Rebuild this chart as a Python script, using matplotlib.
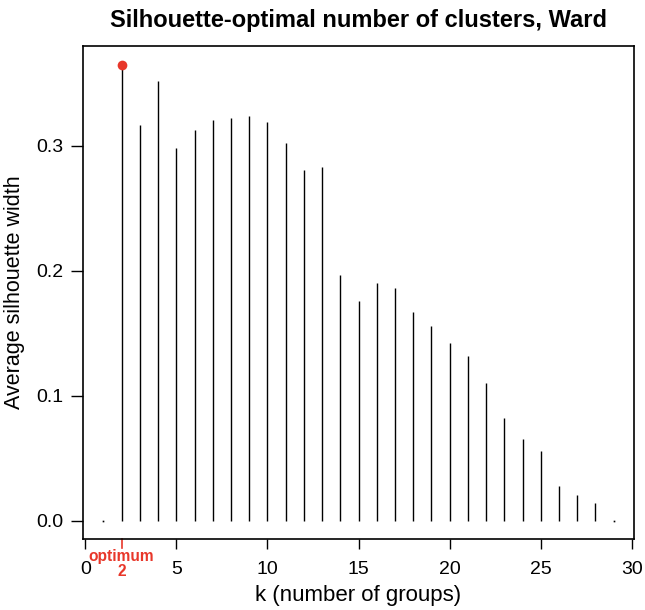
import numpy as np
import matplotlib
matplotlib.use('Agg')
import matplotlib.pyplot as plt

plt.rcParams['font.family'] = ['Liberation Sans', 'DejaVu Sans']

k = list(range(1, 30))
sil = [0.0, 0.365, 0.317, 0.352, 0.298, 0.313, 0.321, 0.322, 0.324, 0.319,
       0.302, 0.281, 0.283, 0.1965, 0.176, 0.190, 0.186, 0.167, 0.156, 0.142,
       0.1315, 0.110, 0.082, 0.0656, 0.056, 0.0275, 0.021, 0.0144, 0.0]
best_k = 2
red = '#e8372a'

fig = plt.figure(figsize=(6.45, 6.1), dpi=100)
ax = fig.add_axes([0.1287, 0.1164, 0.983 - 0.1287, 0.9246 - 0.1164])

k_arr = np.array(k)
s_arr = np.array(sil)
ax.vlines(k_arr, 0, s_arr, color='black', linewidth=1.0)
zero = s_arr == 0
ax.plot(k_arr[zero], s_arr[zero], 's', color='black', markersize=1.2, markeredgewidth=0)
ax.plot(best_k, sil[k.index(best_k)], 'o', color=red, markersize=7, markeredgewidth=0)

ax.set_xlim(-0.12, 30.12)
ax.set_ylim(-0.0146, 0.380)
ax.set_xticks([0, 5, 10, 15, 20, 25, 30])
ax.set_yticks([0.0, 0.1, 0.2, 0.3])
ax.set_yticklabels(['0.0', '0.1', '0.2', '0.3'])
ax.tick_params(direction='out', width=1, labelsize=14)
ax.tick_params(axis='x', length=7, pad=9)
ax.tick_params(axis='y', length=9, pad=5)
for sp in ax.spines.values():
    sp.set_linewidth(1.2)

# optimum marker on the x axis
ax.plot([best_k, best_k], [0, -0.018], color=red, linewidth=1.2,
        transform=ax.get_xaxis_transform(), clip_on=False)
ax.annotate('optimum\n' + str(best_k), xy=(best_k, 0),
            xycoords=('data', 'axes fraction'), xytext=(0, -7.5),
            textcoords='offset points', color=red, fontsize=11.2,
            fontweight='bold', ha='center', va='top', linespacing=1.0,
            multialignment='center')

ax.set_xlabel('k (number of groups)', fontsize=16, labelpad=5)
ax.set_ylabel('Average silhouette width', fontsize=15.5, labelpad=8)
ax.set_title('Silhouette-optimal number of clusters, Ward', fontsize=17,
             fontweight='bold', pad=14)

fig.savefig('out.png', dpi=100)
